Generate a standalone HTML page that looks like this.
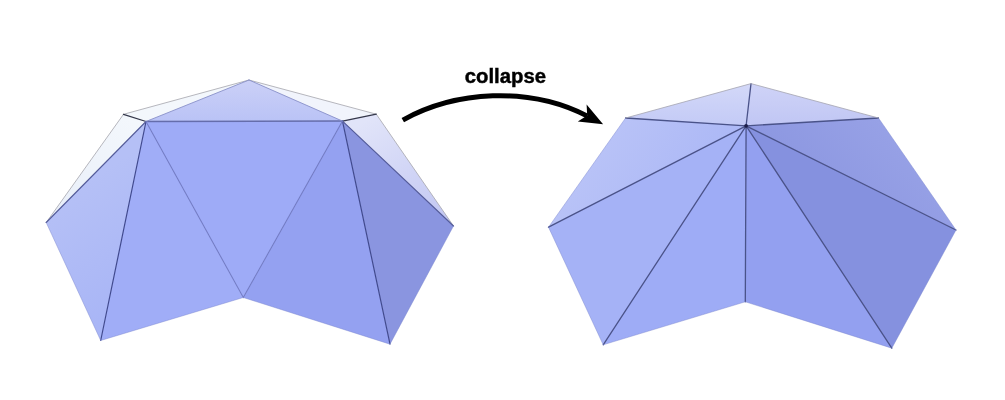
<!DOCTYPE html>
<html><head><meta charset="utf-8">
<style>
html,body{margin:0;padding:0;background:#fff;width:1005px;height:400px;overflow:hidden}
svg{display:block}
text{font-family:"Liberation Sans",sans-serif;font-weight:bold}
</style></head>
<body>
<svg width="1005" height="400" viewBox="0 0 1005 400">
<defs>
<filter id="soft" x="-5%" y="-5%" width="110%" height="110%"><feGaussianBlur stdDeviation="0.6"/></filter>
<linearGradient id="gTop" x1="0" y1="80" x2="0" y2="121" gradientUnits="userSpaceOnUse">
<stop offset="0" stop-color="#cbd0f7"/><stop offset="1" stop-color="#bac3f6"/></linearGradient>
<linearGradient id="gLeft" x1="60" y1="200" x2="140" y2="320" gradientUnits="userSpaceOnUse">
<stop offset="0" stop-color="#b5c0f6"/><stop offset="1" stop-color="#a7b4f6"/></linearGradient>
<linearGradient id="gRStrip" x1="376" y1="114" x2="440" y2="215" gradientUnits="userSpaceOnUse">
<stop offset="0" stop-color="#e1e4f9"/><stop offset="1" stop-color="#c4c9f3"/></linearGradient>
<linearGradient id="gLStrip" x1="120" y1="114" x2="60" y2="215" gradientUnits="userSpaceOnUse">
<stop offset="0" stop-color="#f3f7fc"/><stop offset="1" stop-color="#e9eff9"/></linearGradient>
<linearGradient id="gRT1" x1="0" y1="84" x2="0" y2="126" gradientUnits="userSpaceOnUse">
<stop offset="0" stop-color="#d3d8f8"/><stop offset="1" stop-color="#c3caf6"/></linearGradient>
<linearGradient id="gRT2" x1="0" y1="84" x2="0" y2="126" gradientUnits="userSpaceOnUse">
<stop offset="0" stop-color="#cfd3f7"/><stop offset="1" stop-color="#c0c6f4"/></linearGradient>
<linearGradient id="gRL" x1="610" y1="125" x2="710" y2="195" gradientUnits="userSpaceOnUse">
<stop offset="0" stop-color="#b9c3f7"/><stop offset="1" stop-color="#abb7f6"/></linearGradient>
<linearGradient id="gRTR" x1="880" y1="118" x2="800" y2="200" gradientUnits="userSpaceOnUse">
<stop offset="0" stop-color="#97a1e6"/><stop offset="1" stop-color="#8b96e0"/></linearGradient>
</defs>
<g filter="url(#soft)">
<!-- LEFT SHAPE -->
<g>
<polygon points="249,80 123.5,114.3 146,121.5" fill="#f3f7fc"/>
<polygon points="249,80 376.3,114.2 342.5,121.1" fill="#f1f4fc"/>
<polygon points="249,80 146,121.5 342.5,121.1" fill="url(#gTop)"/>
<polygon points="123.5,114.3 46.2,222.5 146,121.5" fill="url(#gLStrip)"/>
<polygon points="146,121.5 46.2,222.5 100.7,340.5" fill="url(#gLeft)"/>
<polygon points="146,121.5 100.7,340.5 243.3,297.5" fill="#a0adf7"/>
<polygon points="146,121.5 243.3,297.5 342.5,121.1" fill="#9eabf7"/>
<polygon points="342.5,121.1 243.3,297.5 390,344.2" fill="#94a1f1"/>
<polygon points="342.5,121.1 376.3,114.2 453.5,226" fill="url(#gRStrip)"/>
<polygon points="342.5,121.1 453.5,226 390,344.2" fill="#8a95e0"/>
</g>
<g fill="none" stroke-linecap="round">
<path d="M123.5,114.3 L249,80 L376.3,114.2 L453.5,226 M123.5,114.3 L46.2,222.5" stroke="#a4a4ac" stroke-width="0.8"/>
<path d="M123.5,114.3 L146,121.5 M376.3,114.2 L342.5,121.1" stroke="#34374a" stroke-width="1.25"/>
<path d="M146,121.5 L100.7,340.5 M342.5,121.1 L390,344.2" stroke="#414a8e" stroke-width="1.2"/>
<path d="M146,121.5 L342.5,121.1" stroke="#656dab" stroke-width="1.5"/>
<path d="M249,80 L146,121.5 M249,80 L342.5,121.1" stroke="#8890c8" stroke-width="0.9"/>
<path d="M146,121.5 L46.2,222.5 M342.5,121.1 L453.5,226" stroke="#545c9a" stroke-width="1.15"/>
<path d="M146,121.5 L243.3,297.5 L342.5,121.1" stroke="#727bc4" stroke-width="1.05"/>
</g>
<!-- RIGHT SHAPE -->
<g>
<polygon points="746.1,125.8 625.6,118 751,83.6" fill="url(#gRT1)"/>
<polygon points="746.1,125.8 751,83.6 878.5,118" fill="url(#gRT2)"/>
<polygon points="746.1,125.8 548.5,227.2 625.6,118" fill="url(#gRL)"/>
<polygon points="746.1,125.8 603.2,344.8 548.5,227.2" fill="#a5b2f6"/>
<polygon points="746.1,125.8 745.3,301.8 603.2,344.8" fill="#9eacf6"/>
<polygon points="746.1,125.8 891.8,348.2 745.3,301.8" fill="#93a0f0"/>
<polygon points="746.1,125.8 956,230 891.8,348.2" fill="#8591df"/>
<polygon points="746.1,125.8 878.5,118 956,230" fill="url(#gRTR)"/>
</g>
<g fill="none" stroke="#4a5289" stroke-width="1.3" stroke-linecap="round">
<path d="M746.1,125.8 L751,83.6 M746.1,125.8 L878.5,118 M746.1,125.8 L956,230 M746.1,125.8 L891.8,348.2 M746.1,125.8 L745.3,301.8 M746.1,125.8 L603.2,344.8 M746.1,125.8 L548.5,227.2 M746.1,125.8 L625.6,118"/>
</g>
<path d="M625.6,118 L751,83.6 L878.5,118" fill="none" stroke="#a4a4b0" stroke-width="0.8"/>
<circle cx="746.1" cy="125.8" r="1.9" fill="#1a1f4a"/>
<path d="M46.2,222.5 L100.7,340.5 L243.3,297.5 L390,344.2 L453.5,226 M625.6,118 L548.5,227.2 L603.2,344.8 L745.3,301.8 L891.8,348.2 L956,230 L878.5,118" fill="none" stroke="#7882cc" stroke-opacity="0.55" stroke-width="0.8" stroke-linejoin="round"/>
<!-- ARROW -->
<path d="M402.8,120.1 C455.33,90.9 528.88,86.02 587,115.9" fill="none" stroke="#000" stroke-width="5"/>
<polygon points="603.1,124.2 586.6,104.4 587.2,115.6 577.8,121.4" fill="#000"/>
<text x="464.8" y="82.7" font-size="20.3" fill="#000" stroke="#000" stroke-width="0.45">collapse</text>
</g>
</svg>
</body></html>
